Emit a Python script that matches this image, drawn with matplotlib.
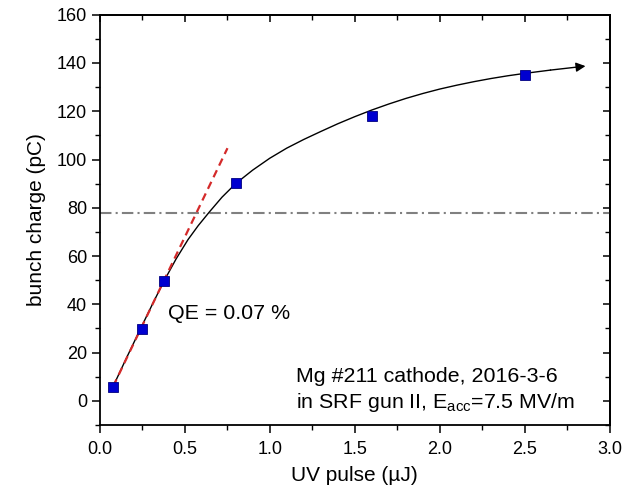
import matplotlib
matplotlib.use("Agg")
import matplotlib.pyplot as plt
from matplotlib.ticker import MultipleLocator

plt.rcParams["font.family"] = ["Liberation Sans", "DejaVu Sans"]
plt.rcParams["mathtext.fontset"] = "custom"
plt.rcParams["mathtext.rm"] = "Liberation Sans"

# measured points
pulse = [0.08, 0.25, 0.38, 0.80, 1.60, 2.50]
charge = [5.8, 29.8, 49.8, 90.2, 118.2, 135.1]

# saturation fit curve
fit_x = [0.08, 0.16, 0.25, 0.31, 0.38, 0.45, 0.52, 0.58, 0.646, 0.72, 0.80,
         0.90, 1.00, 1.10, 1.20, 1.30, 1.40, 1.50, 1.60, 1.70, 1.80, 1.90,
         2.00, 2.10, 2.20, 2.30, 2.40, 2.50, 2.65, 2.856]
fit_y = [6.0, 18.0, 31.2, 39.9, 49.8, 58.8, 66.8, 72.6, 78.3, 84.4, 90.0,
         95.6, 100.5, 104.7, 108.3, 111.6, 114.8, 117.75, 120.5, 123.0, 125.3, 127.35,
         129.2, 130.8, 132.25, 133.55, 134.7, 135.7, 137.05, 138.7]

# linear (QE) fit
lin_x = [0.08, 0.752]
lin_y = [6.0, 104.7]

limit_y = 78

fig = plt.figure(figsize=(6.31, 4.95), dpi=100)
ax = fig.add_axes([0.1577, 0.1414, 0.8090, 0.8289])

ax.axhline(limit_y, color="#808080", lw=1.5, dashes=(5.5, 2, 1, 2))
ax.plot(fit_x[:-1], fit_y[:-1], color="black", lw=1.0)
ax.annotate("", xy=(fit_x[-1], fit_y[-1]), xytext=(fit_x[-2], fit_y[-2]),
            arrowprops=dict(arrowstyle="-|>", color="black", lw=1.0,
                            mutation_scale=14, shrinkA=0, shrinkB=0))
ax.plot(lin_x, lin_y, color="#d42a2a", lw=1.6, dashes=(3.5, 2.3))
ax.plot(pulse, charge, ls="none", marker="s", ms=7, color="#0000d0",
        mec="#000080", mew=0.6, zorder=5)

ax.text(0.405, 34, "QE = 0.07 %", fontsize=15.4, va="baseline", ha="left")
ax.text(1.155, 8.0, "Mg #211 cathode, 2016-3-6", fontsize=15.4, ha="left", va="baseline")
ax.text(1.155, -3.0, r"in SRF gun II, E$_\mathregular{acc}$=7.5 MV/m", fontsize=15.4,
        ha="left", va="baseline")

ax.set_xlim(0, 3.0)
ax.set_ylim(-10, 160)
ax.xaxis.set_major_locator(MultipleLocator(0.5))
ax.xaxis.set_minor_locator(MultipleLocator(0.25))
ax.yaxis.set_major_locator(MultipleLocator(20))
ax.yaxis.set_minor_locator(MultipleLocator(10))
ax.set_xticks([0, 0.5, 1.0, 1.5, 2.0, 2.5, 3.0])
ax.set_xticklabels(["0.0", "0.5", "1.0", "1.5", "2.0", "2.5", "3.0"])
ax.tick_params(which="major", direction="out", length=5.5, width=1.1, labelsize=13, pad=3.5)
ax.tick_params(axis="x", which="major", pad=6)
ax.tick_params(which="minor", direction="out", length=3.3, width=1.0)
for s in ax.spines.values():
    s.set_linewidth(1.3)

top = ax.secondary_xaxis("top")
top.xaxis.set_major_locator(MultipleLocator(0.5))
top.xaxis.set_minor_locator(MultipleLocator(0.25))
top.tick_params(which="major", direction="in", length=5.2, width=1.1, labeltop=False)
top.tick_params(which="minor", direction="in", length=3.6, width=1.0)
right = ax.secondary_yaxis("right")
right.yaxis.set_major_locator(MultipleLocator(20))
right.yaxis.set_minor_locator(MultipleLocator(10))
right.tick_params(which="major", direction="in", length=5.2, width=1.1, labelright=False)
right.tick_params(which="minor", direction="in", length=3.6, width=1.0)
for sec in (top, right):
    for s in sec.spines.values():
        s.set_linewidth(1.3)

ax.set_xlabel("UV pulse (µJ)", fontsize=15, labelpad=6)
ax.set_ylabel("bunch charge (pC)", fontsize=15, labelpad=8)

fig.savefig("out.png", dpi=100)
